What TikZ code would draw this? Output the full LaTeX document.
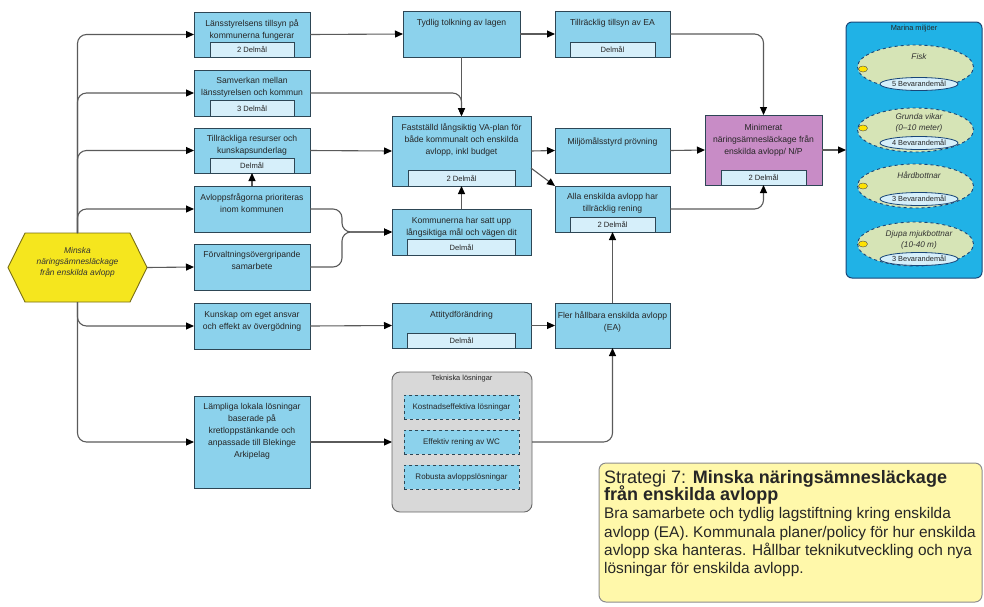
\documentclass[tikz,border=0pt]{standalone}
\usepackage{fontspec}
\setmainfont{Liberation Sans}
\usetikzlibrary{arrows.meta,shapes.geometric}
\definecolor{boxblue}{RGB}{140,210,236}
\definecolor{subblue}{RGB}{214,239,250}
\definecolor{boxline}{RGB}{45,70,85}
\definecolor{connc}{RGB}{90,90,90}
\definecolor{hexy}{RGB}{245,230,30}
\definecolor{hexline}{RGB}{120,110,20}
\definecolor{purp}{RGB}{200,140,198}
\definecolor{marine}{RGB}{32,178,230}
\definecolor{marline}{RGB}{25,70,120}
\definecolor{eggreen}{RGB}{214,228,182}
\definecolor{grayfill}{RGB}{216,216,216}
\definecolor{noteyellow}{RGB}{255,248,170}
\tikzset{
 bx/.style={draw=boxline, fill=boxblue, line width=0.9pt, inner sep=0pt, outer sep=0pt, anchor=north west},
 subbx/.style={draw=boxline, fill=subblue, line width=0.8pt, inner sep=0pt, outer sep=0pt, anchor=south, font=\fontsize{7.6}{9}\selectfont, text=black!85},
 txt/.style={anchor=north, align=center, inner sep=0pt, font=\fontsize{8.6}{12}\selectfont, text=black!85},
 cn/.style={draw=connc, line width=1.1pt, rounded corners=9pt, -{Triangle[length=8pt,width=7pt,color=black]}},
 egg/.style={ellipse, draw=marline, dashed, line width=0.9pt, fill=eggreen, minimum width=116pt, minimum height=44pt, inner sep=0pt},
 inegg/.style={ellipse, draw=marline, line width=0.8pt, fill=subblue, minimum width=78pt, minimum height=13pt, inner sep=0pt, font=\fontsize{7.4}{9}\selectfont, text=black!85},
 eggtxt/.style={align=center, inner sep=0pt, font=\fontsize{8.2}{11}\selectfont\itshape, text=black!80},
 icon/.style={ellipse, draw=black!70, fill=yellow!85!orange, minimum width=9pt, minimum height=6pt, inner sep=0pt},
 dbx/.style={draw=boxline, dashed, line width=0.9pt, fill=boxblue, minimum width=115pt, minimum height=24pt, inner sep=0pt, font=\fontsize{8}{10}\selectfont, text=black!85},
 notetxt/.style={anchor=base west, inner sep=0pt, text=black!85},
}
\begin{document}
\begin{tikzpicture}[x=1pt,y=-1pt]
\useasboundingbox (0,0) rectangle (984,606);

% hexagon
\node[minimum width=139pt, minimum height=69pt, inner sep=0pt, outer sep=0pt] (hex) at (77.5,267.5) {};
\draw[draw=hexline, fill=hexy, line width=0.9pt] (hex.west) -- ([xshift=17pt]hex.north west) -- ([xshift=-17pt]hex.north east) -- (hex.east) -- ([xshift=-17pt]hex.south east) -- ([xshift=17pt]hex.south west) -- cycle;
\node[align=center, inner sep=0pt, font=\fontsize{8.4}{11}\selectfont\itshape, text=black!80] (hext) at ([yshift=5pt]hex.center) {Minska\\näringsämnesläckage\\från enskilda avlopp};

% column 1
\node[bx, minimum width=116pt, minimum height=45pt] (b1) at (194,12) {};
\node[txt] (b1t) at ([yshift=-7pt]b1.north) {Länsstyrelsens tillsyn på\\kommunerna fungerar};
\node[subbx, minimum width=84pt, minimum height=15pt] (b1d) at (b1.south) {2 Delmål};

\node[bx, minimum width=116pt, minimum height=46pt] (b2) at (194,70) {};
\node[txt] (b2t) at ([yshift=-7pt]b2.north) {Samverkan mellan\\länsstyrelsen och kommun};
\node[subbx, minimum width=84pt, minimum height=16pt] (b2d) at (b2.south) {3 Delmål};

\node[bx, minimum width=116pt, minimum height=45pt] (b3) at (194,128) {};
\node[txt] (b3t) at ([yshift=-7pt]b3.north) {Tillräckliga resurser och\\kunskapsunderlag};
\node[subbx, minimum width=84pt, minimum height=15pt] (b3d) at (b3.south) {Delmål};

\node[bx, minimum width=116pt, minimum height=46pt] (b4) at (194,186) {};
\node[txt] (b4t) at ([yshift=-7pt]b4.north) {Avloppsfrågorna prioriteras\\inom kommunen};

\node[bx, minimum width=116pt, minimum height=46pt] (b5) at (194,244) {};
\node[txt] (b5t) at ([yshift=-7pt]b5.north) {Förvaltningsövergripande\\samarbete};

\node[bx, minimum width=116pt, minimum height=46pt] (b6) at (194,303) {};
\node[txt] (b6t) at ([yshift=-8pt]b6.north) {Kunskap om eget ansvar\\och effekt av övergödning};

\node[bx, minimum width=116pt, minimum height=92pt] (b7) at (194,396) {};
\node[txt] (b7t) at ([yshift=-7pt]b7.north) {Lämpliga lokala lösningar\\baserade på\\kretloppstänkande och\\anpassade till Blekinge\\Arkipelag};

% column 2
\node[bx, minimum width=117pt, minimum height=46pt] (tyd) at (403,11) {};
\node[txt] (tydt) at ([yshift=-8pt]tyd.north) {Tydlig tolkning av lagen};

\node[bx, minimum width=139pt, minimum height=70pt] (fas) at (392,116) {};
\node[txt] (fast) at ([yshift=-7pt]fas.north) {Fastställd långsiktig VA-plan för\\både kommunalt och enskilda\\avlopp, inkl budget};
\node[subbx, minimum width=107pt, minimum height=16pt] (fasd) at (fas.south) {2 Delmål};

\node[bx, minimum width=139pt, minimum height=46pt] (kom) at (392,209) {};
\node[txt] (komt) at ([yshift=-8pt]kom.north) {Kommunerna har satt upp\\långsiktiga mål och vägen dit};
\node[subbx, minimum width=108pt, minimum height=16pt] (komd) at (kom.south) {Delmål};

\node[bx, minimum width=139pt, minimum height=45pt] (att) at (392,303) {};
\node[txt] (attt) at ([yshift=-8pt]att.north) {Attitydförändring};
\node[subbx, minimum width=108pt, minimum height=15pt] (attd) at (att.south) {Delmål};

\node[draw=black!60, fill=grayfill, line width=0.9pt, rounded corners=8pt, minimum width=140pt, minimum height=140pt, inner sep=0pt, outer sep=0pt, anchor=north west] (tek) at (392,372) {};
\node[inner sep=0pt, font=\fontsize{7.4}{9}\selectfont, text=black!85] (tekt) at (462,379) {Tekniska lösningar};
\node[dbx] (tk1) at (461.5,407) {Kostnadseffektiva lösningar};
\node[dbx] (tk2) at (461.5,442) {Effektiv rening av WC};
\node[dbx] (tk3) at (461.5,477) {Robusta avloppslösningar};

% column 3
\node[bx, minimum width=115pt, minimum height=46pt] (tea) at (555,11) {};
\node[txt] (teat) at ([yshift=-8pt]tea.north) {Tillräcklig tillsyn av EA};
\node[subbx, minimum width=85pt, minimum height=15pt] (tead) at (tea.south) {Delmål};

\node[bx, minimum width=115pt, minimum height=45pt] (mil) at (555,128) {};
\node[txt] (milt) at ([yshift=-9pt]mil.north) {Miljömålsstyrd prövning};

\node[bx, minimum width=115pt, minimum height=46pt] (alla) at (555,186) {};
\node[txt] (allat) at ([yshift=-7pt]alla.north) {Alla enskilda avlopp har\\tillräcklig rening};
\node[subbx, minimum width=85pt, minimum height=15pt] (allad) at (alla.south) {2 Delmål};

\node[bx, minimum width=115pt, minimum height=45pt] (fler) at (555,303) {};
\node[txt] (flert) at ([yshift=-8pt]fler.north) {Fler hållbara enskilda avlopp\\(EA)};

% minimerat
\node[bx, fill=purp, minimum width=117pt, minimum height=70pt] (mini) at (705,115) {};
\node[txt] (minit) at ([yshift=-9pt]mini.north) {Minimerat\\näringsämnesläckage från\\enskilda avlopp/ N/P};
\node[subbx, minimum width=85pt, minimum height=15pt] (minid) at (mini.south) {2 Delmål};

% marina miljöer
\node[draw=marline, fill=marine, line width=1pt, rounded corners=6pt, minimum width=136pt, minimum height=256pt, inner sep=0pt, outer sep=0pt, anchor=north west] (mar) at (846,22) {};
\node[inner sep=0pt, font=\fontsize{7.4}{9}\selectfont, text=black!85] (mart) at (914,29) {Marina miljöer};

\node[egg] (e1) at (915.5,67) {};
\node[eggtxt] (e1t) at (919,57) {Fisk};
\node[inegg] (e1b) at (919,84) {5 Bevarandemål};
\node[icon] (e1i) at (863,69) {};

\node[egg] (e2) at (915.5,130) {};
\node[eggtxt] (e2t) at (919,122.5) {Grunda vikar\\(0--10 meter)};
\node[inegg] (e2b) at (919,143) {4 Bevarandemål};
\node[icon] (e2i) at (863,128) {};

\node[egg] (e3) at (915.5,186) {};
\node[eggtxt] (e3t) at (919,175) {Hårdbottnar};
\node[inegg] (e3b) at (919,199) {3 Bevarandemål};
\node[icon] (e3i) at (863,186) {};

\node[egg] (e4) at (915.5,244) {};
\node[eggtxt] (e4t) at (919,239.5) {Djupa mjukbottnar\\(10-40 m)};
\node[inegg] (e4b) at (919,259) {3 Bevarandemål};
\node[icon] (e4i) at (863,244) {};

% note
\node[draw=black!45, fill=noteyellow, line width=1pt, rounded corners=7pt, minimum width=383pt, minimum height=139pt, inner sep=0pt, outer sep=0pt, anchor=north west] (note) at (599,463) {};
\node[notetxt, font=\fontsize{18}{18}\selectfont] (n1) at (604,483) {Strategi 7: \textbf{Minska näringsämnesläckage}};
\node[notetxt, font=\fontsize{18}{18}\selectfont] (n2) at (604,500) {\textbf{från enskilda avlopp}};
\node[notetxt, font=\fontsize{15.4}{18}\selectfont] (n3) at (604,518) {Bra samarbete och tydlig lagstiftning kring enskilda};
\node[notetxt, font=\fontsize{15.4}{18}\selectfont] (n4) at (604,537) {avlopp (EA). Kommunala planer/policy för hur enskilda};
\node[notetxt, font=\fontsize{15.4}{18}\selectfont] (n5) at (604,555) {avlopp ska hanteras. Hållbar teknikutveckling och nya};
\node[notetxt, font=\fontsize{15.4}{18}\selectfont] (n6) at (604,573) {lösningar för enskilda avlopp.};

% connectors
\coordinate (jn) at ([xshift=-50pt]kom.west);
\draw[cn] (hex.north) |- (b1.west);
\draw[cn] (hex.north) |- (b2.west);
\draw[cn] (hex.north) |- (b3.west);
\draw[cn] (hex.north) |- (b4.west);
\draw[cn] (hex.east) -- (b5.west);
\draw[cn] (hex.south) |- (b6.west);
\draw[cn] (hex.south) |- (b7.west);

\draw[cn] (b1.east) -- (tyd.west);
\draw[cn] (tyd.east) -- (tea.west);
\draw[cn] (tea.east) -| (mini.north);
\draw[cn] (tyd.south) -- (fas.north);
\draw[cn] (b2.east) -| (fas.north);
\draw[cn] (b3.east) -- (fas.west);
\draw[cn] (b4.north) -- (b3.south);
\draw[cn] (b4.east) -| (jn) -- (kom.west);
\draw[cn] (b5.east) -| (jn) -- (kom.west);
\draw[cn] (kom.north) -- (fas.south);
\draw[cn] (fas.east) -- (mil.west);
\draw[cn] ([yshift=18pt]fas.south east) -- (alla.north west);
\draw[cn] (mil.east) -- (mini.west);
\draw[cn] (alla.east) -| (mini.south);
\draw[cn] (mini.east) -- (mar.west);
\draw[cn] (b6.east) -- (att.west);
\draw[cn] (att.east) -- (fler.west);
\draw[cn] (fler.north) -- (alla.south);
\draw[cn] (b7.east) -- (tek.west);
\draw[cn] (tek.east) -| (fler.south);
\end{tikzpicture}
\end{document}
